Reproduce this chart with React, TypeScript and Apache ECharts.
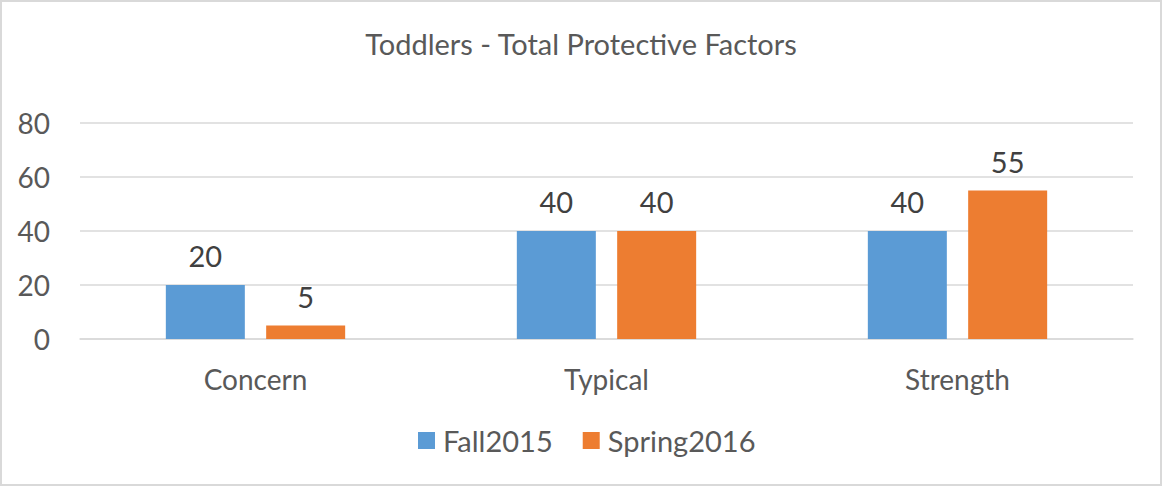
import React, { useEffect, useRef } from "react";
import * as echarts from "echarts";

const categories = ["Concern", "Typical", "Strength"];
const fall2015 = [20, 40, 40];
const spring2016 = [5, 40, 55];
const seriesNames = ["Fall2015", "Spring2016"];

export default function App() {
  const ref = useRef<HTMLDivElement>(null);
  useEffect(() => {
    document.body.style.margin = "0";
    const chart = echarts.init(ref.current!, null, { renderer: "svg" });
    const font = "Lato, 'Open Sans', sans-serif";
    const label = {
      show: true,
      position: "top",
      distance: 15,
      color: "#404040",
      fontSize: 29,
      fontFamily: font,
    };
    chart.setOption({
      animation: false,
      backgroundColor: "transparent",
      title: {
        text: "Toddlers - Total Protective Factors",
        left: "center",
        top: 24,
        textStyle: { color: "#595959", fontSize: 29, fontWeight: "normal", fontFamily: font },
      },
      legend: {
        data: seriesNames,
        bottom: 26,
        left: 413,
        itemWidth: 17,
        itemHeight: 17,
        itemGap: 30,
        icon: "rect",
        textStyle: { color: "#595959", fontSize: 29, fontFamily: font, padding: [0, 0, 0, 3] },
      },
      grid: { left: 80, right: 29, top: 123, bottom: 147 },
      xAxis: {
        type: "category",
        data: categories,
        axisLine: { lineStyle: { color: "#d9d9d9", width: 1.5 } },
        axisTick: { show: false },
        axisLabel: { color: "#595959", fontSize: 28, fontFamily: font, margin: 26 },
      },
      yAxis: {
        type: "value",
        min: 0,
        max: 80,
        interval: 20,
        axisLine: { show: false },
        axisTick: { show: false },
        splitLine: { lineStyle: { color: "#d9d9d9", width: 1.5 } },
        axisLabel: { color: "#595959", fontSize: 28, fontFamily: font, margin: 30 },
      },
      series: [
        {
          name: seriesNames[0],
          type: "bar",
          data: fall2015,
          barWidth: 79,
          barGap: "27%",
          itemStyle: { color: "#5B9BD5" },
          label,
        },
        {
          name: seriesNames[1],
          type: "bar",
          data: spring2016,
          barWidth: 79,
          barGap: "27%",
          itemStyle: { color: "#ED7D31" },
          label,
        },
      ],
    });
    return () => chart.dispose();
  }, []);
  return (
    <div
      style={{
        width: 1162,
        height: 486,
        boxSizing: "border-box",
        border: "2px solid #d9d9d9",
        position: "relative",
        background: "#ffffff",
      }}
    >
      <div ref={ref} style={{ position: "absolute", left: -2, top: -2, width: 1162, height: 486 }} />
    </div>
  );
}
